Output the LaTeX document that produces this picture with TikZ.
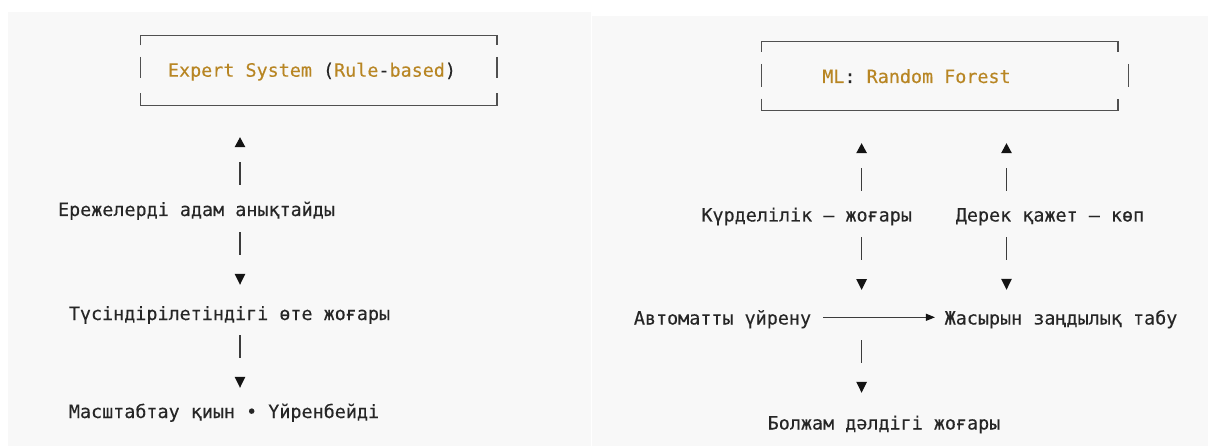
\documentclass[tikz,border=0pt]{standalone}
\usepackage{fontspec}
\usetikzlibrary{arrows.meta}
\newfontfamily\monofnt{DejaVu Sans Mono}[FakeBold=0.2]
\definecolor{panelbg}{RGB}{248,248,248}
\definecolor{txt}{RGB}{38,38,38}
\definecolor{gold}{RGB}{184,134,36}
\definecolor{boxline}{RGB}{80,80,80}
\definecolor{barcol}{RGB}{60,60,60}
\definecolor{tipcol}{RGB}{20,20,20}
\newcommand{\gd}[1]{\textcolor{gold}{#1}}
\begin{document}
\begin{tikzpicture}[x=1pt,y=-1pt,
  lbl/.style={font=\monofnt\fontsize{18.4pt}{21pt}\selectfont, text=txt, inner sep=0pt,
              text height=13pt, text depth=4pt, anchor=base},
  boxframe/.style={rectangle, inner sep=0pt, draw=none},
  boxpart/.style={draw=boxline, line width=1.3pt},
  upconn/.style={draw=barcol, line width=1.2pt, dash pattern=on 23pt off 600pt,
                 -{Triangle[length=10pt,width=10.5pt,color=tipcol]}},
  downconn/.style={draw=barcol, line width=1.2pt, dash pattern=on 23pt off 600pt,
                 -{Triangle[length=11pt,width=10.5pt,color=tipcol]}},
  hconn/.style={draw=barcol, line width=1pt,
                 -{Triangle[length=9pt,width=7pt,color=tipcol]}}
]
\useasboundingbox (0,0) rectangle (1209,446);
\fill[white] (0,0) rectangle (1209,446);
\fill[panelbg] (8,12) rectangle (591,446);
\fill[panelbg] (592,16) rectangle (1208,446);

\coordinate (colL) at (240,0);
\coordinate (colA) at (861.6,0);
\coordinate (colB) at (1006.5,0);

% ---------- left panel ----------
\node[boxframe, minimum width=356pt, minimum height=69pt] (lbox) at (318.7,70.5) {};
\draw[boxpart] ([yshift=-9.7pt]lbox.north west) -- (lbox.north west) -- (lbox.north east) -- ([yshift=-9.7pt]lbox.north east);
\draw[boxpart] ([yshift=12pt]lbox.south west) -- (lbox.south west) -- (lbox.south east) -- ([yshift=12pt]lbox.south east);
\draw[boxpart] ([yshift=-21pt]lbox.north west) -- ([yshift=-42pt]lbox.north west);
\draw[boxpart] ([yshift=-21pt]lbox.north east) -- ([yshift=-42pt]lbox.north east);
\node[lbl] (L0) at (312,76.7) {\gd{Expert System} (\gd{Rule}-\gd{based})};

\node[lbl] (L1) at (196.5,216) {Ережелерді адам анықтайды};
\node[lbl] (L2) at (229.5,320) {Түсіндірілетіндігі өте жоғары};
\node[lbl] (L3) at (224,418) {Масштабтау қиын • Үйренбейді};

\draw[upconn, shorten <=18pt, shorten >=32pt] (L1.north -| colL) -- (lbox.south -| colL);
\draw[downconn, shorten <=12pt, shorten >=22pt] (L1.south -| colL) -- (L2.north -| colL);
\draw[downconn, shorten <=11pt, shorten >=17pt] (L2.south -| colL) -- (L3.north -| colL);

% ---------- right panel ----------
\node[boxframe, minimum width=356.1pt, minimum height=68.5pt] (rbox) at (939.75,76.25) {};
\draw[boxpart] ([yshift=-10pt]rbox.north west) -- (rbox.north west) -- (rbox.north east) -- ([yshift=-10pt]rbox.north east);
\draw[boxpart] ([yshift=12pt]rbox.south west) -- (rbox.south west) -- (rbox.south east) -- ([yshift=12pt]rbox.south east);
\draw[boxpart] ([yshift=-22pt]rbox.north west) -- ([yshift=-45pt]rbox.north west);
\draw[boxpart] ([xshift=10.7pt,yshift=-22pt]rbox.north east) -- ([xshift=10.7pt,yshift=-45pt]rbox.north east);
\node[lbl] (R0) at (916.5,83) {\gd{ML}:\ \gd{Random Forest}};

\node[lbl] (R1a) at (806.7,221.5) {Күрделілік — жоғары};
\node[lbl] (R1b) at (1050,221.5) {Дерек қажет — көп};
\node[lbl] (R2a) at (722.5,324.5) {Автоматты үйрену};
\node[lbl] (R2b) at (1061,324.5) {Жасырын заңдылық табу};
\node[lbl] (R3) at (884,429.5) {Болжам дәлдігі жоғары};
\coordinate (mid) at (861.6,317.3);

\draw[upconn, shorten <=17.5pt, shorten >=32.5pt] (R1a.north -| colA) -- (rbox.south -| colA);
\draw[upconn, shorten <=17.5pt, shorten >=32.5pt] (R1b.north -| colB) -- (rbox.south -| colB);
\draw[downconn, shorten <=11.5pt, shorten >=27.3pt] (R1a.south -| colA) -- (mid);
\draw[downconn, shorten <=22.7pt, shorten >=23.5pt] (mid) -- (R3.north -| colA);
\draw[downconn, shorten <=11.5pt, shorten >=21.5pt] (R1b.south -| colB) -- (R2b.north -| colB);
\draw[hconn, shorten <=11.7pt, shorten >=9.5pt] ([yshift=2.7pt]R2a.east) -- ([yshift=2.7pt]R2b.west);
\end{tikzpicture}
\end{document}
